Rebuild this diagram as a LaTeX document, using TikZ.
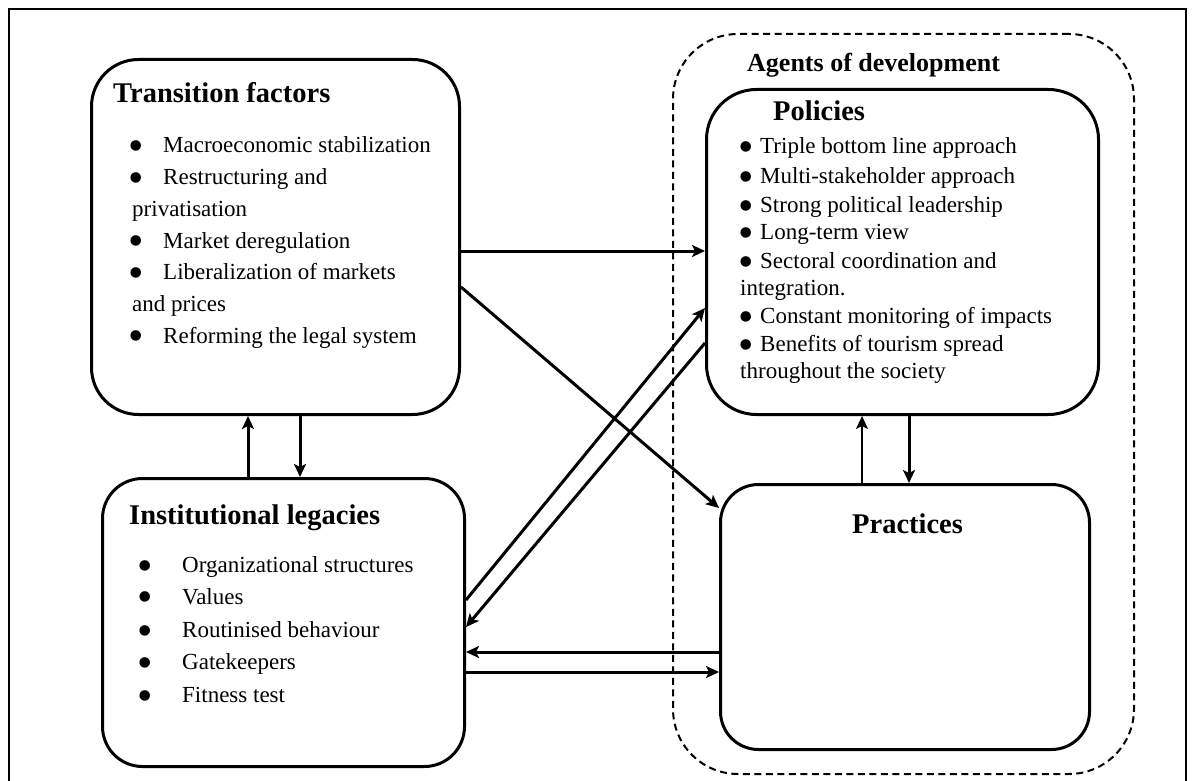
\documentclass[tikz,border=0pt]{standalone}
\usepackage{fontspec}
\setmainfont{Liberation Serif}
\usetikzlibrary{arrows.meta}
\begin{document}
\begin{tikzpicture}[x=1pt,y=-1pt,
  box/.style={draw, line width=3pt, rounded corners=#1, anchor=north west, inner sep=0pt},
  agentbox/.style={draw, line width=2pt, dash pattern=on 7pt off 4.5pt, rounded corners=65pt, anchor=north west, inner sep=0pt},
  txt/.style={anchor=base west, inner sep=0pt, font=\fontsize{23}{28}\selectfont},
  ttl/.style={anchor=base west, inner sep=0pt, font=\fontsize{28.5}{34}\selectfont\bfseries},
  bul/.style={anchor=center, inner sep=0pt, yshift=-5pt, font=\fontsize{44}{44}\selectfont},
  tip/.style={-{Stealth[length=13pt,width=12pt,inset=3pt]}},
  arr/.style={line width=3pt, tip},
  thinarr/.style={line width=2.2pt, tip}
]
\useasboundingbox (0,0) rectangle (1192,781);

% outer frame (open at the bottom)
\draw[line width=2pt] (9,790) -- (9,9) -- (1186,9) -- (1186,790);

% agents of development group
\node[agentbox, minimum width=461pt, minimum height=740pt] (agents) at (672,33) {};
\node[anchor=base west, inner sep=0pt, font=\fontsize{26}{30}\selectfont\bfseries] (agentsT) at (747,71.5) {Agents of development};

% main boxes
\node[box=47pt, minimum width=368pt, minimum height=355pt] (tf) at (90,58) {};
\node[box=40pt, minimum width=362pt, minimum height=288pt] (il) at (101,477) {};
\node[box=50pt, minimum width=392pt, minimum height=325pt] (pol) at (705,88) {};
\node[box=38pt, minimum width=369pt, minimum height=265pt] (prac) at (719,483) {};

% transition factors
\node[ttl] (tfT) at (113,103) {Transition factors};
\node[bul] (tfb1) at (136.7,146) {•};
\node[txt] (tf1) at (163,153) {Macroeconomic stabilization};
\node[bul] (tfb2) at (136.7,177.5) {•};
\node[txt] (tf2) at (163,184.5) {Restructuring and};
\node[txt] (tf3) at (132,216) {privatisation};
\node[bul] (tfb4) at (136.7,241) {•};
\node[txt] (tf4) at (163,248) {Market deregulation};
\node[bul] (tfb5) at (136.7,272.5) {•};
\node[txt] (tf5) at (163,279.5) {Liberalization of markets};
\node[txt] (tf6) at (132,311) {and prices};
\node[bul] (tfb7) at (136.7,336) {•};
\node[txt] (tf7) at (163,343) {Reforming the legal system};

% institutional legacies
\node[ttl] (ilT) at (129,524) {Institutional legacies};
\node[bul] (ilb1) at (145,565.5) {•};
\node[txt] (il1) at (182,572.5) {Organizational structures};
\node[bul] (ilb2) at (145,597) {•};
\node[txt] (il2) at (182,604) {Values};
\node[bul] (ilb3) at (145,630.5) {•};
\node[txt] (il3) at (182,637.5) {Routinised behaviour};
\node[bul] (ilb4) at (145,662.5) {•};
\node[txt] (il4) at (182,669.5) {Gatekeepers};
\node[bul] (ilb5) at (145,695.5) {•};
\node[txt] (il5) at (182,702.5) {Fitness test};

% policies
\node[ttl] (polT) at (773,120.5) {Policies};
\node[bul] (pb1) at (745.7,147) {•};
\node[txt] (p1) at (760,154) {Triple bottom line approach};
\node[bul] (pb2) at (745.7,176.3) {•};
\node[txt] (p2) at (760,183.3) {Multi-stakeholder approach};
\node[bul] (pb3) at (745.7,205.3) {•};
\node[txt] (p3) at (760,212.3) {Strong political leadership};
\node[bul] (pb4) at (745.7,233) {•};
\node[txt] (p4) at (760,240) {Long-term view};
\node[bul] (pb5) at (745.7,261.3) {•};
\node[txt] (p5) at (760,268.3) {Sectoral coordination and};
\node[txt] (p6) at (740,295) {integration.};
\node[bul] (pb7) at (745.7,316.3) {•};
\node[txt] (p7) at (760,323.3) {Constant monitoring of impacts};
\node[bul] (pb8) at (745.7,344.7) {•};
\node[txt] (p8) at (760,351.7) {Benefits of tourism spread};
\node[txt] (p9) at (740,378.3) {throughout the society};

% practices
\node[ttl] (pracT) at (852,533) {Practices};

% connectors
\draw[arr] (tf.east |- 0,251) -- (pol.west |- 0,251);
\draw[arr] (tf.east |- 0,287) -- (prac.west |- 0,508);
\draw[arr] (il.east |- 0,600) -- (pol.west |- 0,308);
\draw[arr] (pol.west |- 0,343) -- (il.east |- 0,627);
\draw[arr] (prac.west |- 0,652) -- (il.east |- 0,652);
\draw[arr] (il.east |- 0,672) -- (prac.west |- 0,672);
\draw[arr] (il.north -| 248,0) -- (tf.south -| 248,0);
\draw[arr] (tf.south -| 300,0) -- (il.north -| 300,0);
\draw[thinarr] (prac.north -| 862,0) -- (pol.south -| 862,0);
\draw[arr] (pol.south -| 909,0) -- (prac.north -| 909,0);
\end{tikzpicture}
\end{document}
